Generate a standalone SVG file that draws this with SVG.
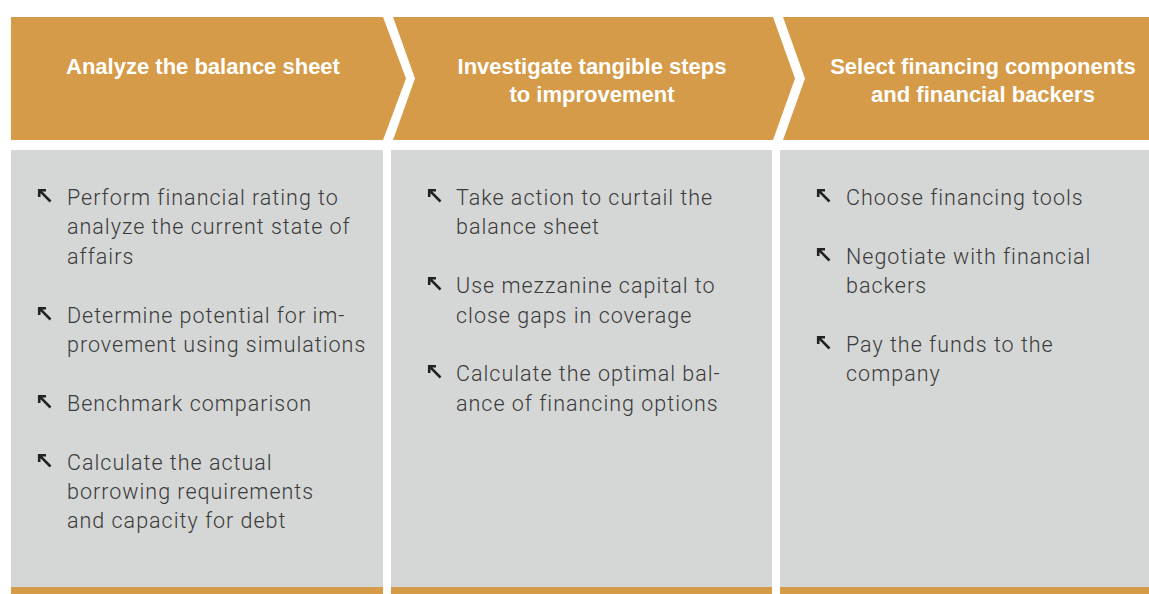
<svg xmlns="http://www.w3.org/2000/svg" xmlns:xlink="http://www.w3.org/1999/xlink" width="1149" height="594" viewBox="0 0 1149 594">
  <style>
    .head { fill: #D59B48; }
    .panel { fill: #D5D7D6; }
    .strip { fill: #D59B48; }
    .title { font-family: "Liberation Sans", Arial, sans-serif; font-weight: bold; font-size: 22px; fill: #FFFFFF; text-anchor: middle; }
    .item { font-family: "Roboto", "Liberation Sans", sans-serif; font-weight: 300; font-size: 21.5px; letter-spacing: 1px; fill: #3A3A3A; }
    .bullet { fill: none; stroke: #222222; stroke-width: 2.6; stroke-linecap: butt; stroke-linejoin: miter; }
  </style>
  <defs>
    <!-- up-left arrow used as list bullet; origin at the arrow tip -->
    <g id="arrow">
      <path class="bullet" d="M1.2,1.2 L12.5,12.5 M8,1.2 L1.2,1.2 L1.2,8"/>
    </g>
  </defs>

  <rect width="1149" height="594" fill="#FFFFFF"/>

  <!-- step 1 -->
  <g id="step1">
    <polygon class="head" points="11,17 383,17 406,78.5 383,140 11,140"/>
    <text class="title" x="203" y="74">Analyze the balance sheet</text>
    <rect class="panel" x="11" y="150" width="372" height="437"/>
    <rect class="strip" x="11" y="587" width="372" height="7"/>
    <use xlink:href="#arrow" x="38" y="189"/>
    <use xlink:href="#arrow" x="38" y="307"/>
    <use xlink:href="#arrow" x="38" y="395"/>
    <use xlink:href="#arrow" x="38" y="454"/>
    <text class="item" x="67" y="205">Perform financial rating to</text>
    <text class="item" x="67" y="234.4">analyze the current state of</text>
    <text class="item" x="67" y="263.8">affairs</text>
    <text class="item" x="67" y="322.6">Determine potential for im-</text>
    <text class="item" x="67" y="352">provement using simulations</text>
    <text class="item" x="67" y="410.8">Benchmark comparison</text>
    <text class="item" x="67" y="469.6">Calculate the actual</text>
    <text class="item" x="67" y="499">borrowing requirements</text>
    <text class="item" x="67" y="528.4">and capacity for debt</text>
  </g>

  <!-- step 2 -->
  <g id="step2">
    <polygon class="head" points="393,17 773,17 795,78.5 773,140 393,140 415,78.5"/>
    <text class="title" x="592" y="74">Investigate tangible steps</text>
    <text class="title" x="592" y="102">to improvement</text>
    <rect class="panel" x="391" y="150" width="381" height="437"/>
    <rect class="strip" x="391" y="587" width="381" height="7"/>
    <use xlink:href="#arrow" x="428" y="189"/>
    <use xlink:href="#arrow" x="428" y="277"/>
    <use xlink:href="#arrow" x="428" y="365"/>
    <text class="item" x="456" y="205">Take action to curtail the</text>
    <text class="item" x="456" y="234.4">balance sheet</text>
    <text class="item" x="456" y="293.2">Use mezzanine capital to</text>
    <text class="item" x="456" y="322.6">close gaps in coverage</text>
    <text class="item" x="456" y="381.4">Calculate the optimal bal-</text>
    <text class="item" x="456" y="410.8">ance of financing options</text>
  </g>

  <!-- step 3 -->
  <g id="step3">
    <polygon class="head" points="783,17 1149,17 1149,140 783,140 805,78.5"/>
    <text class="title" x="983" y="74">Select financing components</text>
    <text class="title" x="983" y="102">and financial backers</text>
    <rect class="panel" x="780" y="150" width="369" height="437"/>
    <rect class="strip" x="780" y="587" width="369" height="7"/>
    <use xlink:href="#arrow" x="817" y="189"/>
    <use xlink:href="#arrow" x="817" y="248"/>
    <use xlink:href="#arrow" x="817" y="336"/>
    <text class="item" x="846" y="205">Choose financing tools</text>
    <text class="item" x="846" y="264.2">Negotiate with financial</text>
    <text class="item" x="846" y="293.2">backers</text>
    <text class="item" x="846" y="352">Pay the funds to the</text>
    <text class="item" x="846" y="381.4">company</text>
  </g>

  <!-- no connectors: the steps are joined by their chevron shapes -->
  <g id="connectors"/>
</svg>
